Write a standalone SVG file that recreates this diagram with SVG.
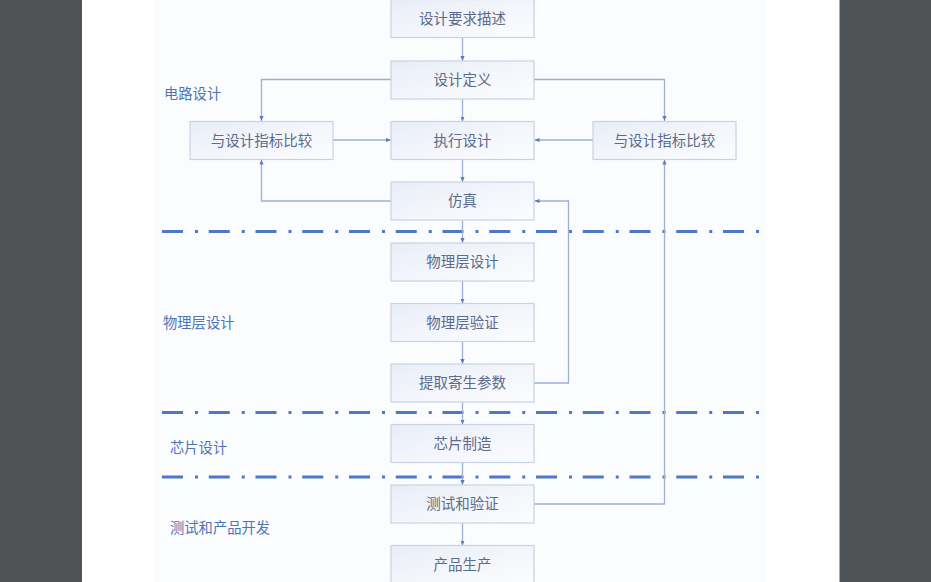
<svg xmlns="http://www.w3.org/2000/svg" width="931" height="582" viewBox="0 0 931 582">
<defs>
<linearGradient id="bx" x1="0" y1="0" x2="1" y2="1">
<stop offset="0" stop-color="#e8edf6"/>
<stop offset="0.6" stop-color="#f5f7fc"/>
<stop offset="1" stop-color="#fbfcfe"/>
</linearGradient>
<marker id="ah" viewBox="0 0 6 6" refX="6" refY="3" markerWidth="5" markerHeight="5" orient="auto" markerUnits="userSpaceOnUse">
<path d="M0,0.5 L6,3 L0,5.5 Z" fill="#5a7cc0"/>
</marker>
<style>
.box{fill:url(#bx);stroke:#c8d2e4;stroke-width:1.2}
.t{font-family:"Noto Sans CJK SC","Noto Sans",sans-serif;font-size:14.5px;fill:#5b6b8a;text-anchor:middle;dominant-baseline:central}
.lab{font-family:"Noto Sans CJK SC","Noto Sans",sans-serif;font-size:14.3px;fill:#4f74b6;dominant-baseline:central}
.c{fill:none;stroke:#9db0d4;stroke-width:1.3;marker-end:url(#ah)}
.dd{stroke:#4f78c4;stroke-width:2.8;stroke-dasharray:21 12 3 10.75;fill:none}
</style>
</defs>
<rect x="0" y="0" width="931" height="582" fill="#505356"/>
<rect x="82" y="0" width="757.5" height="582" fill="#ffffff"/>
<rect x="155" y="0" width="612" height="582" fill="#fbfcfe"/>

<g id="dividers">
<line class="dd" x1="162" y1="231.5" x2="760" y2="231.5"/>
<line class="dd" x1="162" y1="412.5" x2="760" y2="412.5"/>
<line class="dd" x1="162" y1="477" x2="760" y2="477"/>
</g>

<g id="section-labels">
<text class="lab" x="164" y="92.5">电路设计</text>
<text class="lab" x="163" y="321.5">物理层设计</text>
<text class="lab" x="170" y="446.5">芯片设计</text>
<text class="lab" x="170" y="526.5">测试和产品开发</text>
</g>

<g id="connectors">
<path class="c" d="M462.5,38 V61"/>
<path class="c" d="M391,79.5 H261.5 V121"/>
<path class="c" d="M534,79.5 H664.5 V121"/>
<path class="c" d="M462.5,99 V121.5"/>
<path class="c" d="M333,140 H391"/>
<path class="c" d="M593,140 H534.5"/>
<path class="c" d="M462.5,159.5 V182"/>
<path class="c" d="M391,201 H261.5 V159.5"/>
<path class="c" d="M462.5,220.5 V243"/>
<path class="c" d="M462.5,281 V303.5"/>
<path class="c" d="M462.5,341.5 V364"/>
<path class="c" d="M534,383 H568.5 V201 H534.5"/>
<path class="c" d="M462.5,402 V424.5"/>
<path class="c" d="M462.5,462.5 V485"/>
<path class="c" d="M534,504 H664.5 V159.5"/>
<path class="c" d="M462.5,523 V545.5"/>
</g>

<g id="n1"><rect class="box" x="391" y="-0.5" width="143" height="38"/><text class="t" x="462.5" y="17.5">设计要求描述</text></g>
<g id="n2"><rect class="box" x="391" y="61" width="143" height="38"/><text class="t" x="462.5" y="78.5">设计定义</text></g>
<g id="n3"><rect class="box" x="391" y="121.5" width="143" height="38"/><text class="t" x="462.5" y="139">执行设计</text></g>
<g id="n4"><rect class="box" x="391" y="182" width="143" height="38"/><text class="t" x="462.5" y="199.5">仿真</text></g>
<g id="cmpL"><rect class="box" x="190" y="121.5" width="143" height="38"/><text class="t" x="261.5" y="139">与设计指标比较</text></g>
<g id="cmpR"><rect class="box" x="593" y="121.5" width="143" height="38"/><text class="t" x="664.5" y="139">与设计指标比较</text></g>
<g id="n5"><rect class="box" x="391" y="243" width="143" height="38"/><text class="t" x="462.5" y="260.5">物理层设计</text></g>
<g id="n6"><rect class="box" x="391" y="303.5" width="143" height="38"/><text class="t" x="462.5" y="321">物理层验证</text></g>
<g id="n7"><rect class="box" x="391" y="364" width="143" height="38"/><text class="t" x="462.5" y="381.5">提取寄生参数</text></g>
<g id="n8"><rect class="box" x="391" y="424.5" width="143" height="38"/><text class="t" x="462.5" y="442">芯片制造</text></g>
<g id="n9"><rect class="box" x="391" y="485" width="143" height="38"/><text class="t" x="462.5" y="502.5">测试和验证</text></g>
<g id="n10"><rect class="box" x="391" y="545.5" width="143" height="38"/><text class="t" x="462.5" y="563">产品生产</text></g>
</svg>
